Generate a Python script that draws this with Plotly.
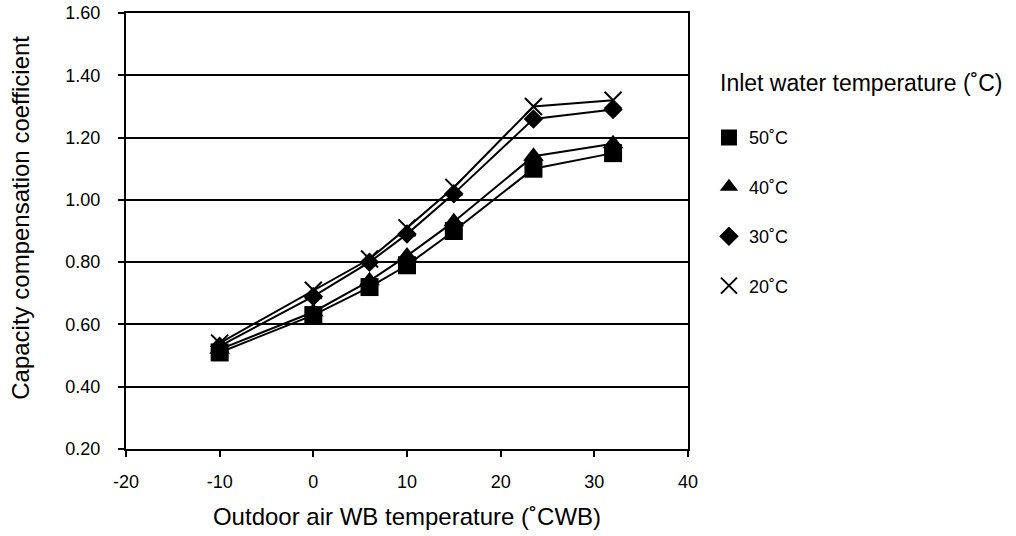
import plotly.graph_objects as go

# outdoor air WB temperature (CWB)
wb_temp = [-10, 0, 6, 10, 15, 23.5, 32]

# capacity compensation coefficient per inlet water temperature
coef_50 = [0.51, 0.63, 0.72, 0.79, 0.90, 1.10, 1.15]
coef_40 = [0.52, 0.64, 0.74, 0.82, 0.93, 1.14, 1.18]
coef_30 = [0.53, 0.69, 0.80, 0.89, 1.02, 1.26, 1.29]
coef_20 = [0.54, 0.71, 0.81, 0.91, 1.04, 1.30, 1.32]

series_names = ["50˚C", "40˚C", "30˚C", "20˚C"]
y_ticks = [0.20, 0.40, 0.60, 0.80, 1.00, 1.20, 1.40, 1.60]
x_ticks = [-20, -10, 0, 10, 20, 30, 40]
x_tick_text = ["-20", "-10", "0", "10", "20", "30", "40"]

FONT = "Liberation Sans, Arial, sans-serif"

symbols = [
    dict(symbol="square", size=18, color="black"),
    dict(symbol="triangle-up", size=18, color="black"),
    dict(symbol="diamond", size=15, color="black"),
    dict(symbol="x-thin", size=17, color="black", line=dict(width=2, color="black")),
]

fig = go.Figure()

all_series = [coef_50, coef_40, coef_30, coef_20]
for name, ys, mk in zip(series_names, all_series, symbols):
    fig.add_trace(go.Scatter(
        x=wb_temp, y=ys, mode="lines+markers", name=name,
        line=dict(color="black", width=2),
        marker=mk, showlegend=False,
    ))

# legend entries: marker only
for name, mk in zip(series_names, symbols):
    fig.add_trace(go.Scatter(
        x=[None], y=[None], mode="markers", name=name,
        marker=mk, legendgroup=name,
    ))

fig.update_xaxes(
    range=[-20, 40], tickvals=x_ticks, ticktext=x_tick_text,
    showline=True, linecolor="black", linewidth=2, mirror=True,
    ticks="outside", ticklen=6, tickwidth=2, tickcolor="black",
    showgrid=False, zeroline=False,
    ticklabelstandoff=9,
    tickfont=dict(family=FONT, size=18, color="black"),
    title=dict(text="Outdoor air WB temperature (˚CWB)",
               font=dict(family=FONT, size=24, color="black"), standoff=18),
)
fig.update_yaxes(
    range=[0.2, 1.6], tickvals=y_ticks, tickformat=".2f",
    showline=True, linecolor="black", linewidth=2, mirror=True,
    ticks="outside", ticklen=6, tickwidth=2, tickcolor="black",
    showgrid=True, gridcolor="black", gridwidth=1.5, zeroline=False,
    ticklabelstandoff=14, ticklabeloverflow="allow",
    tickfont=dict(family=FONT, size=18, color="black"),
)

# y axis title
fig.add_annotation(
    text="Capacity compensation coefficient", xref="paper", yref="paper",
    x=(20 - 125.5) / 562.5, y=(449 - 218) / 436.3, textangle=-90,
    xanchor="center", yanchor="middle", showarrow=False,
    font=dict(family=FONT, size=24, color="black"),
)

# legend title
fig.add_annotation(
    text="Inlet water temperature (˚C)", xref="paper", yref="paper",
    x=1.0533, y=(441 - 75) / 436.3, xanchor="left", yanchor="middle",
    showarrow=False, font=dict(family=FONT, size=23, color="black"),
)

fig.update_layout(
    width=1016, height=536,
    margin=dict(l=125.5, r=328, t=12.7, b=87, autoexpand=False),
    plot_bgcolor="white", paper_bgcolor="white",
    font=dict(family=FONT, color="black"),
    legend=dict(
        x=1.0373, y=(441 - 111) / 436.3, xanchor="left", yanchor="top",
        font=dict(family=FONT, size=18, color="black"),
        tracegroupgap=23, itemwidth=30, bgcolor="rgba(0,0,0,0)",
    ),
)

# page has a default body margin; drop it so the figure sits at the corner
fig.write_html("out.html", config={"displayModeBar": False},
               post_script="document.body.style.margin='0';")
